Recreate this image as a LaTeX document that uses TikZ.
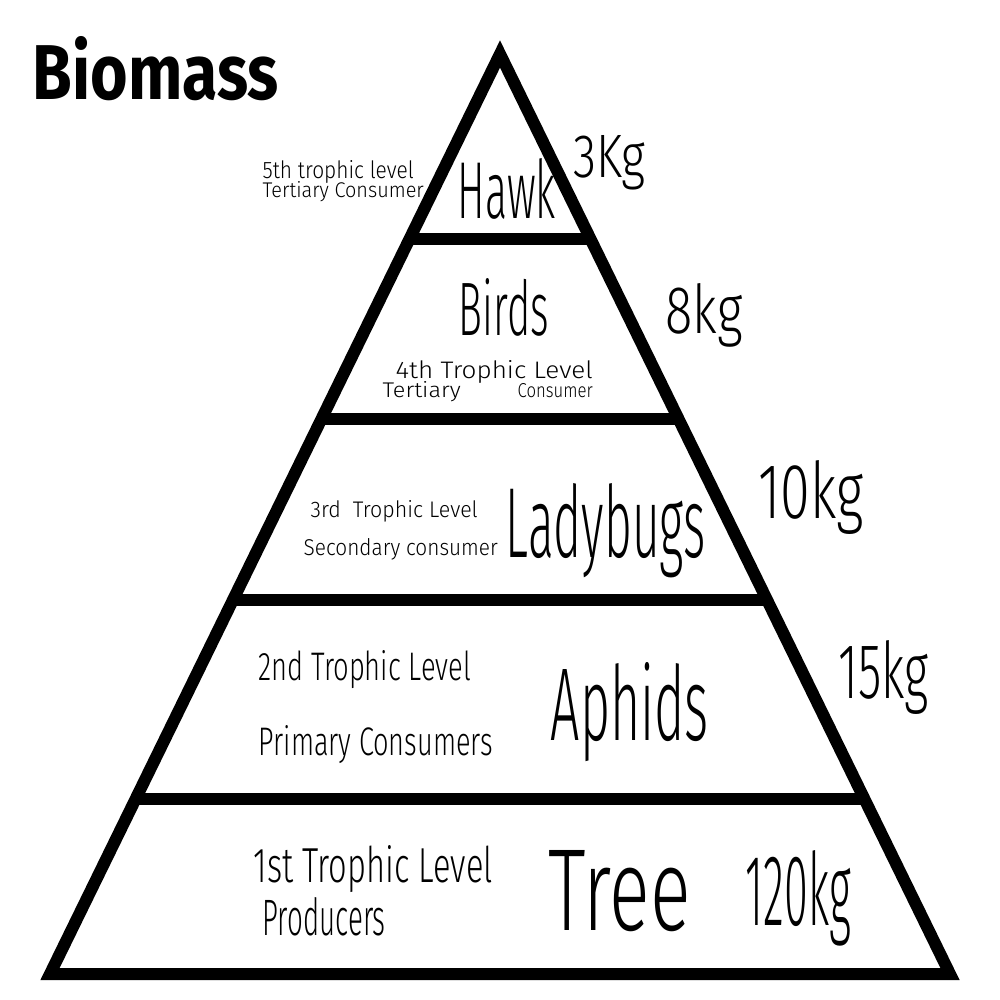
\documentclass[tikz,border=0pt]{standalone}
\usepackage{fontspec}
\setmainfont{Fira Sans}[UprightFont=* Light]
\newfontfamily\heavyfont{Fira Sans}
\usetikzlibrary{calc}
\newcommand{\fitbox}[3]{\resizebox{#1cm}{#2cm}{#3}}
\begin{document}
\begin{tikzpicture}[x=0.01cm,y=-0.01cm,
  edge/.style={line width=0.12cm,line join=miter,black},
  lbl/.style={inner sep=0pt,anchor=base west}]
\useasboundingbox (0,0) rectangle (1000,1000);
% triangle
\coordinate (apex) at (500,54);
\coordinate (bl) at (50,974);
\coordinate (br) at (950,974);
\draw[edge] (apex) -- (bl) -- (br) -- cycle;
% level lines (between the sides)
\foreach \yy/\nm in {239/a,419/b,600/c,799/d}{
  \coordinate (l\nm) at ($(apex)!{(\yy-54)/920}!(bl)$);
  \coordinate (r\nm) at ($(apex)!{(\yy-54)/920}!(br)$);
}
\draw[edge] (la) -- (ra);
\draw[edge] (lb) -- (rb);
\draw[edge] (lc) -- (rc);
\draw[edge] (ld) -- (rd);
% title
\node[lbl] (title) at (32,100) {\fitbox{2.46}{0.63}{\heavyfont\bfseries Biomass}};
% level 5
\node[lbl] (hawk) at (457,218) {\fitbox{0.98}{0.60}{Hawk}};
\node[lbl] (m5) at (573,177) {\fitbox{0.72}{0.42}{3Kg}};
\node[lbl] (t5a) at (262,178) {\fitbox{1.51}{0.18}{5th trophic level}};
\node[lbl] (t5b) at (262,197) {\fitbox{1.61}{0.16}{Tertiary Consumer}};
% level 4
\node[lbl] (birds) at (458,335) {\fitbox{0.90}{0.57}{Birds}};
\node[lbl] (m4) at (665,333) {\fitbox{0.77}{0.50}{8kg}};
\node[lbl] (t4a) at (395,378) {\fitbox{1.97}{0.18}{4th Trophic Level}};
\node[lbl] (t4b) at (382,397) {\fitbox{0.78}{0.16}{Tertiary}};
\node[lbl] (t4c) at (517,397) {\fitbox{0.75}{0.14}{Consumer}};
% level 3
\node[lbl] (lady) at (505,557) {\fitbox{2.00}{0.74}{Ladybugs}};
\node[lbl] (m3) at (758,518) {\fitbox{1.05}{0.58}{10kg}};
\node[lbl] (t3a) at (310,517) {\fitbox{1.67}{0.17}{3rd \ Trophic Level}};
\node[lbl] (t3b) at (303,555) {\fitbox{1.94}{0.17}{Secondary consumer}};
% level 2
\node[lbl] (aphids) at (550,740) {\fitbox{1.58}{0.78}{Aphids}};
\node[lbl] (m2) at (838,698) {\fitbox{0.90}{0.58}{15kg}};
\node[lbl] (t2a) at (258,680) {\fitbox{2.12}{0.30}{2nd Trophic Level}};
\node[lbl] (t2b) at (258,755) {\fitbox{2.34}{0.30}{Primary Consumers}};
% level 1
\node[lbl] (tree) at (548,930) {\fitbox{1.42}{0.80}{Tree}};
\node[lbl] (m1) at (745,925) {\fitbox{1.05}{0.75}{120kg}};
\node[lbl] (t1a) at (253,882) {\fitbox{2.39}{0.37}{1st Trophic Level}};
\node[lbl] (t1b) at (262,935) {\fitbox{1.23}{0.38}{Producers}};
\end{tikzpicture}
\end{document}
